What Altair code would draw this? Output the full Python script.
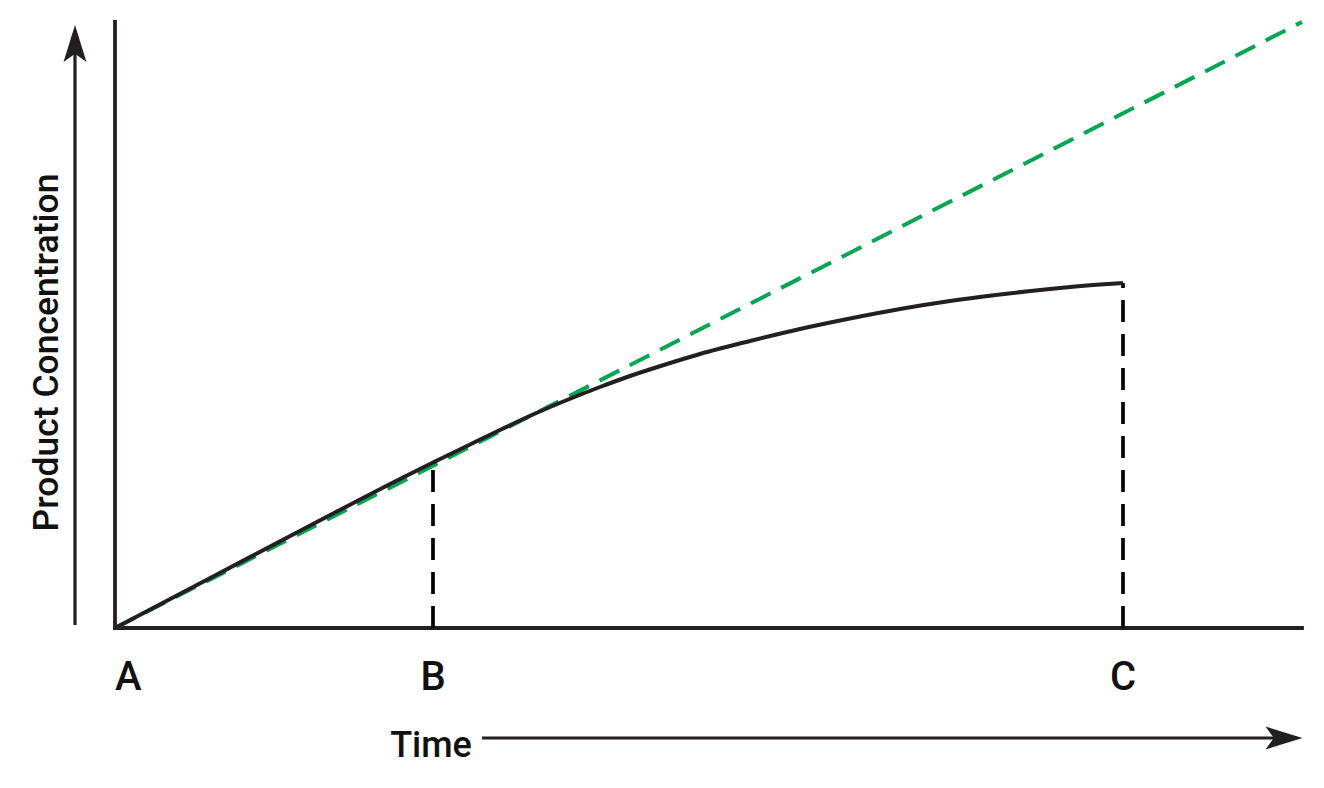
import altair as alt
import pandas as pd

# Black reaction curve (time, product concentration)
curve_time = [0.0, 1.00, 2.00, 2.85, 3.18, 3.52, 3.85, 4.18, 4.52, 4.85, 5.18,
              5.52, 5.85, 6.35, 6.85, 7.35, 7.85, 8.35, 8.85, 9.35, 9.85, 10.08]
curve_conc = [0.0, 0.525, 1.05, 1.49, 1.655, 1.82, 1.98, 2.135, 2.28, 2.41, 2.53,
              2.64, 2.74, 2.87, 2.99, 3.095, 3.19, 3.27, 3.335, 3.39, 3.435, 3.45]

# Green dashed initial-rate line
trend_time = [0.0, 11.87]
trend_conc = [0.0, 6.06]

# Marked time points
point_labels = ["A", "B", "C"]
point_time = [0.0, 3.18, 10.08]
point_conc = [0.0, 1.655, 3.45]

# Axis frame extents
axis_time_end = 11.87
axis_conc_end = 6.06

FONT = "Roboto"
INK = "#231f20"
GREEN = "#00a651"
TXT = "#111111"

W, H = 1304, 768
xs = alt.Scale(domain=[-1.07, (8 + W - 115) / 100], nice=False, zero=False)
ys = alt.Scale(domain=[(628 - (8 + H)) / 100, 6.20], nice=False, zero=False)

curve_df = pd.DataFrame({"t": curve_time, "c": curve_conc})
trend_df = pd.DataFrame({"t": trend_time, "c": trend_conc})
drop_df = pd.DataFrame({"t": point_time[1:], "c0": [0.0, 0.0], "c": point_conc[1:]})
frame_df = pd.DataFrame({
    "t": [0.0, 0.0], "t2": [0.0, axis_time_end],
    "c": [0.0, 0.0], "c2": [axis_conc_end, 0.0],
})
shaft_df = pd.DataFrame({
    "t": [-0.40, 3.67], "t2": [-0.40, 11.75],
    "c": [0.03, -1.10], "c2": [5.85, -1.10],
})
head_df = pd.DataFrame({"t": [-0.40, 11.69], "c": [5.845, -1.10], "angle": [0, 90]})
lab_a_df = pd.DataFrame({"label": point_labels[:1], "t": point_time[:1], "c": [-0.62]})
lab_bc_df = pd.DataFrame({"label": point_labels[1:], "t": point_time[1:], "c": [-0.62, -0.62]})
time_df = pd.DataFrame({"label": ["Time"], "t": [3.16], "c": [-1.29]})
ytitle_df = pd.DataFrame({"label": ["Product Concentration"], "t": [-0.57], "c": [2.755]})

X = lambda f="t": alt.X(f"{f}:Q", scale=xs, axis=None)
Y = lambda f="c": alt.Y(f"{f}:Q", scale=ys, axis=None)

frame = alt.Chart(frame_df).mark_rule(color=INK, strokeWidth=3.8, strokeCap="square").encode(
    x=X(), x2="t2:Q", y=Y(), y2="c2:Q")

shafts = alt.Chart(shaft_df).mark_rule(color=INK, strokeWidth=3.2).encode(
    x=X(), x2="t2:Q", y=Y(), y2="c2:Q")

heads = alt.Chart(head_df).mark_point(
    shape="M0,-1 L0.62,1 L0,0.55 L-0.62,1 Z", size=1369, filled=True,
    color=INK, opacity=1, strokeWidth=0).encode(
    x=X(), y=Y(), angle=alt.Angle("angle:Q", scale=None))

drops = alt.Chart(drop_df).mark_rule(color="#000000", strokeWidth=3.7, strokeDash=[22, 12]).encode(
    x=X(), y=Y("c0"), y2="c:Q")

trend = alt.Chart(trend_df).mark_line(color=GREEN, strokeWidth=4, strokeDash=[22, 12]).encode(
    x=X(), y=Y())

curve = alt.Chart(curve_df).mark_line(color=INK, strokeWidth=4, interpolate="monotone").encode(
    x=X(), y=Y())

lab_a = alt.Chart(lab_a_df).mark_text(font=FONT, fontSize=40, fontWeight=500, align="left",
                                      baseline="alphabetic", color=TXT).encode(x=X(), y=Y(), text="label:N")
lab_bc = alt.Chart(lab_bc_df).mark_text(font=FONT, fontSize=40, fontWeight=500, align="center",
                                        baseline="alphabetic", color=TXT).encode(x=X(), y=Y(), text="label:N")
time_t = alt.Chart(time_df).mark_text(font=FONT, fontSize=36, fontWeight=500, align="center",
                                      baseline="alphabetic", color=TXT).encode(x=X(), y=Y(), text="label:N")
ytitle = alt.Chart(ytitle_df).mark_text(font=FONT, fontSize=35.5, fontWeight=500, align="center",
                                        baseline="alphabetic", angle=270, color=TXT).encode(
    x=X(), y=Y(), text="label:N")

chart = alt.layer(frame, shafts, heads, drops, trend, curve, lab_a, lab_bc, time_t, ytitle).properties(
    width=W, height=H, padding=0, autosize=alt.AutoSizeParams(type="none")
).configure_view(stroke=None)

chart.save("out.html", embed_options={"renderer": "svg", "actions": False})
